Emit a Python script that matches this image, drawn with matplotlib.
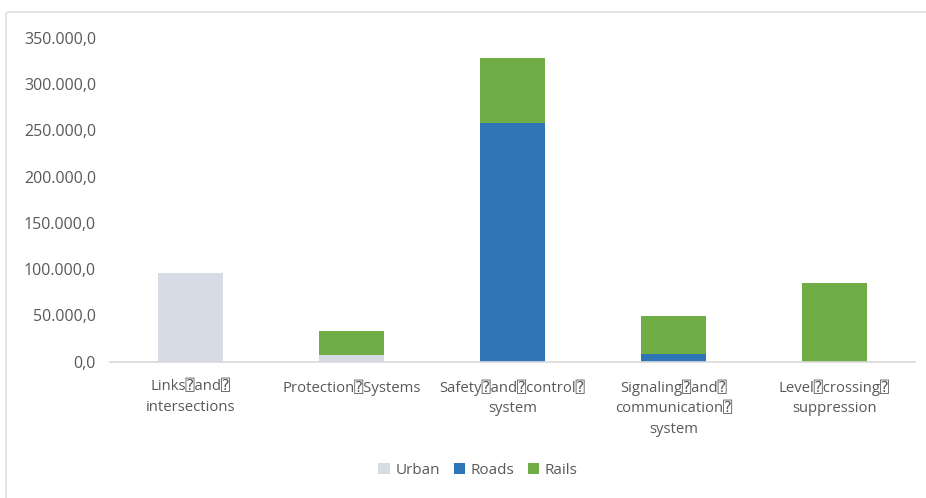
import numpy as np
import matplotlib.pyplot as plt
from matplotlib.patches import FancyBboxPatch
from matplotlib.ticker import FuncFormatter

# box stands for the glyph that the source could not render
B = "\u2370"
categories = ["Links" + B + "and" + B + "\nintersections",
              "Protection" + B + "Systems",
              "Safety" + B + "and" + B + "control" + B + "\nsystem",
              "Signaling" + B + "and" + B + "\ncommunication" + B + "\nsystem",
              "Level" + B + "crossing" + B + "\nsuppression"]
urban = [95500, 6500, 0, 0, 0]
roads = [0, 0, 258000, 8300, 0]
rails = [0, 26000, 70300, 40800, 84500]

fonts = ['Open Sans', 'DejaVu Sans', 'DejaVu Sans Mono']
plt.rcParams['font.family'] = fonts
txt = '#595959'

fig = plt.figure(figsize=(9.26, 4.98), dpi=100)
fig.patches.append(FancyBboxPatch((6 / 926, -0.1), 1.1, (498 - 12) / 498 + 0.1,
                                  boxstyle="round,pad=0,rounding_size=0.004",
                                  transform=fig.transFigure, fill=False,
                                  edgecolor='#d9d9d9', linewidth=1))
ax = fig.add_axes([110 / 926, (498 - 361.5) / 498, 805 / 926, 323.5 / 498])

x = np.arange(len(categories))
w = 0.4
u = np.array(urban)
r = np.array(roads)
ra = np.array(rails)
ax.bar(x, u, w, color='#d6dce5', label='Urban')
ax.bar(x, r, w, bottom=u, color='#2e75b6', label='Roads')
ax.bar(x, ra, w, bottom=u + r, color='#70ad47', label='Rails')

ax.set_xlim(-0.5, len(categories) - 0.5)
ax.set_ylim(0, 350000)
ax.set_yticks(np.arange(0, 350001, 50000))


def fmt(v, pos):
    s = "{:,.1f}".format(v)
    return s.replace(",", "X").replace(".", ",").replace("X", ".")


ax.yaxis.set_major_formatter(FuncFormatter(fmt))
ax.set_xticks(x)
ax.set_xticklabels(categories, fontsize=10.7, color=txt, linespacing=1.5, va='top')
ax.tick_params(axis='x', length=0, pad=13)
ax.tick_params(axis='y', length=0, pad=10, labelsize=11.5, labelcolor=txt)
for s in ['top', 'right', 'left']:
    ax.spines[s].set_visible(False)
ax.spines['bottom'].set_color('#d9d9d9')
ax.spines['bottom'].set_linewidth(1.2)

fig.legend(loc='center', bbox_to_anchor=(478 / 926, (498 - 470) / 498), ncol=3,
           frameon=False, fontsize=11, handlelength=0.75, handleheight=0.75,
           handletextpad=0.35, columnspacing=0.9, labelcolor=txt)

plt.savefig('out.png', dpi=100)
